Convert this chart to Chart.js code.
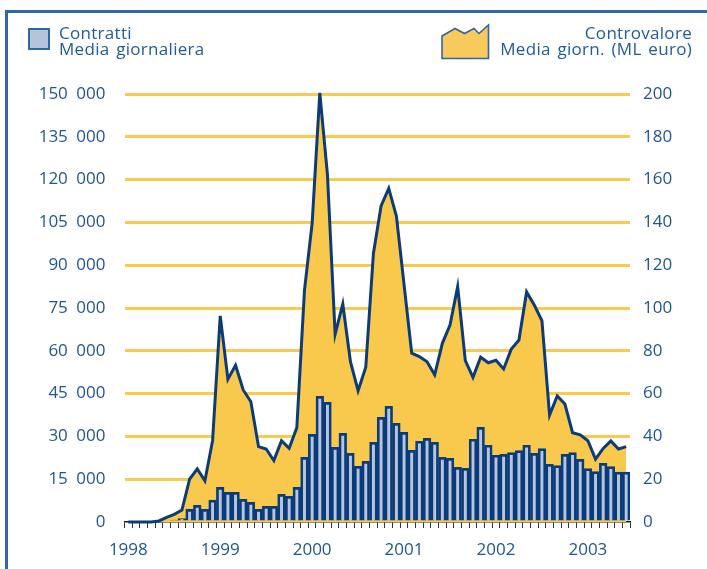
<!DOCTYPE html>
<html>
<head>
<meta charset="utf-8">
<script src="https://cdn.jsdelivr.net/npm/chart.js@4.4.1/dist/chart.umd.min.js"></script>
<style>
  html, body { margin: 0; padding: 0; background: #ffffff; }
  #wrap { position: relative; width: 707px; height: 569px; overflow: hidden; font-family: "Open Sans", sans-serif; }
  #frame { position: absolute; left: 5px; top: 10px; right: -5px; bottom: -5px; border-top: 3px solid #2b69ad; border-left: 3px solid #2b69ad; }
  #chartBox { position: absolute; left: 0; top: 0; width: 707px; height: 569px; }
  .lg { position: absolute; color: #1f5a9a; font-size: 17px; line-height: 16px; white-space: nowrap; letter-spacing: 0.3px; word-spacing: 2px; }
  #sq { position: absolute; left: 28px; top: 28px; width: 22px; height: 22px; box-sizing: border-box; background: #b4c4da; border: 2px solid #2f66a3; }
  #ic { position: absolute; left: 0; top: 0; }
</style>
</head>
<body>
<div id="wrap">
  <div id="frame"></div>
  <div id="chartBox"><canvas id="c"></canvas></div>
  <div id="sq"></div>
  <div class="lg" style="left:59px; top:25px;">Contratti<br>Media giornaliera</div>
  <svg id="ic" width="707" height="80"><polygon points="442,58.5 442,36 455,28.5 464.5,33.5 474,28.5 479,33.5 488.5,25 488.5,58.5" fill="#f8c95c" stroke="#2f66a3" stroke-width="1.6" stroke-linejoin="miter"/></svg>
  <div class="lg" style="right:15px; top:25px; text-align:right;">Controvalore<br>Media giorn. (ML euro)</div>
</div>
<script>
// Months Jan 1998 - Jun 2003
const categories = [
  '1998-01','1998-02','1998-03','1998-04','1998-05','1998-06','1998-07','1998-08','1998-09','1998-10','1998-11','1998-12',
  '1999-01','1999-02','1999-03','1999-04','1999-05','1999-06','1999-07','1999-08','1999-09','1999-10','1999-11','1999-12',
  '2000-01','2000-02','2000-03','2000-04','2000-05','2000-06','2000-07','2000-08','2000-09','2000-10','2000-11','2000-12',
  '2001-01','2001-02','2001-03','2001-04','2001-05','2001-06','2001-07','2001-08','2001-09','2001-10','2001-11','2001-12',
  '2002-01','2002-02','2002-03','2002-04','2002-05','2002-06','2002-07','2002-08','2002-09','2002-10','2002-11','2002-12',
  '2003-01','2003-02','2003-03','2003-04','2003-05','2003-06'
];
const yearLabels = ['1998','1999','2000','2001','2002','2003'];

// Contratti - media giornaliera (left axis)
const contratti = [
  0, 0, 0, 0, 0, 0, 700, 1200, 4450, 5850, 4450, 7700,
  12150, 10400, 10400, 7950, 6900, 4450, 5500, 5500, 9700, 9000, 12150, 22650,
  30700, 44000, 41900, 26150, 31050, 24050, 19500, 21250, 27900, 36700, 40550, 34600,
  31400, 25100, 28300, 29300, 27900, 22650, 22300, 19150, 18800, 29000, 33200, 26900,
  23400, 23700, 24300, 25000, 26900, 24050, 25700, 20200, 19750, 23700, 24300, 21950,
  18700, 17650, 20550, 19400, 17500, 17500
];

// Controvalore - media giornaliera, ML euro (right axis)
const controvalore = [
  0, 0, 0, 0, 0.5, 2.2, 3.6, 5.6, 20, 24.8, 19.3, 38,
  96.3, 66.7, 73.2, 61.7, 56.2, 35.2, 34.1, 28.7, 38, 34.4, 44.1, 108.4,
  139.6, 200.5, 162.2, 87.7, 101.9, 74.9, 61.4, 72.3, 125.5, 147.7, 155.9, 143,
  110.9, 78.9, 77.3, 74.9, 68.8, 83.5, 92, 110, 75.4, 67.6, 77, 74.4,
  75.6, 71.5, 80.8, 85, 107.5, 101.4, 94.1, 50, 58.9, 55.1, 41.7, 40.7,
  38, 29.4, 34.4, 37.9, 34.1, 35.2
];

const leftTicks = [0, 15000, 30000, 45000, 60000, 75000, 90000, 105000, 120000, 135000, 150000];
const rightTicks = [0, 20, 40, 60, 80, 100, 120, 140, 160, 180, 200];

const TEXT = '#1f5592';
const YELLOW = '#f9ca4f';
const FONT = { family: '"Open Sans", sans-serif', size: 17 };

function fmt(v) { return String(v).replace(/\B(?=(\d{3})+(?!\d))/g, '\u2002'); }

new Chart(document.getElementById('c'), {
  data: {
    labels: categories,
    datasets: [
      {
        type: 'bar',
        label: 'Contratti',
        data: contratti,
        yAxisID: 'y',
        backgroundColor: '#b8c6dd',
        borderColor: '#0a3b7b',
        borderWidth: 2.7,
        barPercentage: 1,
        categoryPercentage: 1,
        order: 1
      },
      {
        type: 'line',
        label: 'Controvalore',
        data: controvalore,
        yAxisID: 'y1',
        borderColor: '#0c3c78',
        borderWidth: 3,
        backgroundColor: '#f8c94c',
        fill: 'origin',
        pointRadius: 0,
        tension: 0,
        clip: 8,
        order: 2
      }
    ]
  },
  options: {
    responsive: true,
    maintainAspectRatio: false,
    animation: false,
    layout: { padding: { top: 94, left: 0, right: 0, bottom: 0 } },
    plugins: { legend: { display: false }, tooltip: { enabled: false } },
    scales: {
      x: {
        type: 'category',
        offset: true,
        grid: { display: true, drawOnChartArea: false, drawTicks: true, tickLength: 6, color: '#333333', lineWidth: 1, offset: true },
        border: { display: true, color: '#1a1a1a', width: 1.5 },
        ticks: {
          autoSkip: false, maxRotation: 0, minRotation: 0, padding: 12,
          color: TEXT, font: FONT,
          callback: function(val, idx) { return idx % 12 === 0 ? yearLabels[idx / 12] : ''; }
        },
        afterFit: function(s) { s.height = 47; }
      },
      y: {
        position: 'left',
        min: 0, max: 150000,
        afterBuildTicks: function(s) { s.ticks = leftTicks.map(v => ({ value: v })); },
        grid: {
          drawTicks: false, lineWidth: 3,
          color: function(ctx) { return ctx.tick && ctx.tick.value === 0 ? 'rgba(0,0,0,0)' : YELLOW; }
        },
        border: { display: false },
        ticks: { padding: 19, color: TEXT, font: FONT, callback: function(v) { return fmt(v); } },
        afterFit: function(s) { s.width = 124.5; }
      },
      y1: {
        position: 'right',
        min: 0, max: 200,
        afterBuildTicks: function(s) { s.ticks = rightTicks.map(v => ({ value: v })); },
        grid: { display: false, drawTicks: false },
        border: { display: false },
        ticks: { padding: 13, color: TEXT, font: FONT },
        afterFit: function(s) { s.width = 77; }
      }
    }
  }
});
</script>
</body>
</html>
